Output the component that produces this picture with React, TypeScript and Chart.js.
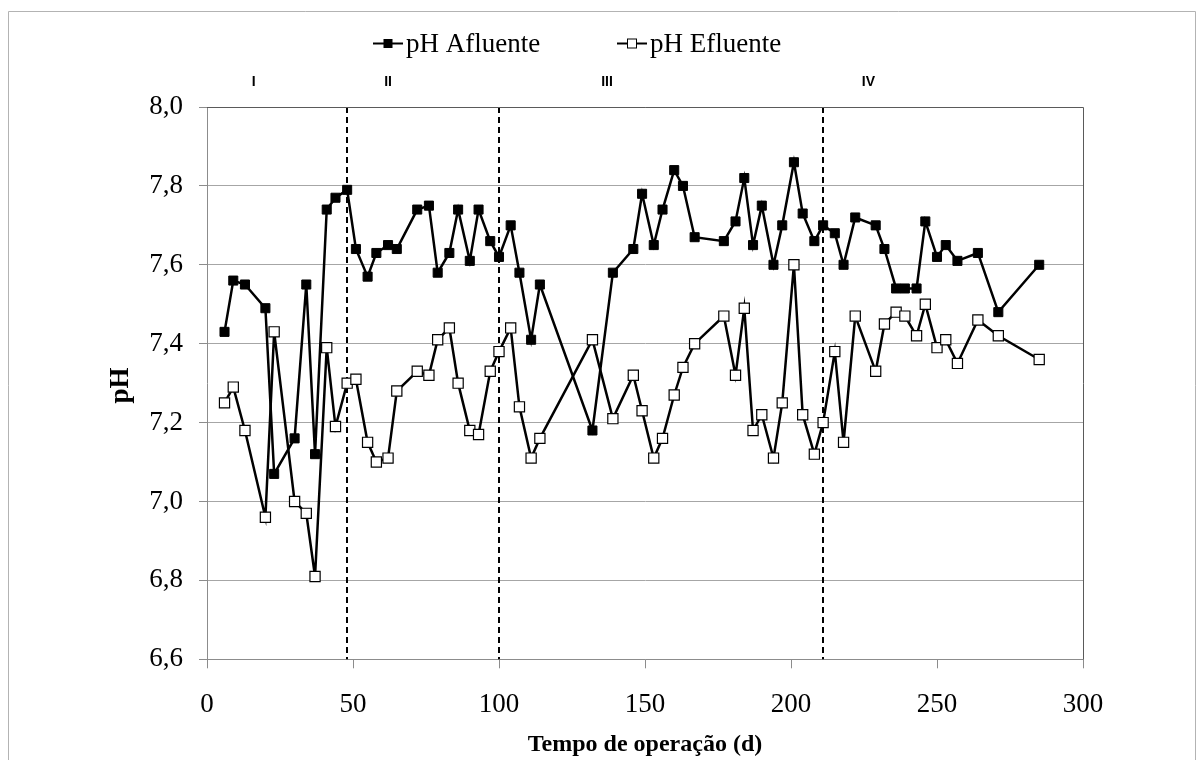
import { useEffect, useRef } from "react";
import { Chart, registerables } from "chart.js";

Chart.register(...registerables);

// Operation day of each sampling
const days = [
  6, 9, 13, 20, 23, 30, 34, 37, 41, 44, 48, 51, 55, 58, 62, 65, 72, 76, 79, 83,
  86, 90, 93, 97, 100, 104, 107, 111, 114, 132, 139, 146, 149, 153, 156, 160,
  163, 167, 177, 181, 184, 187, 190, 194, 197, 201, 204, 208, 211, 215, 218,
  222, 229, 232, 236, 239, 243, 246, 250, 253, 257, 264, 271, 285,
];

// Influent pH
const afluente = [
  7.43, 7.56, 7.55, 7.49, 7.07, 7.16, 7.55, 7.12, 7.74, 7.77, 7.79, 7.64, 7.57,
  7.63, 7.65, 7.64, 7.74, 7.75, 7.58, 7.63, 7.74, 7.61, 7.74, 7.66, 7.62, 7.7,
  7.58, 7.41, 7.55, 7.18, 7.58, 7.64, 7.78, 7.65, 7.74, 7.84, 7.8, 7.67, 7.66,
  7.71, 7.82, 7.65, 7.75, 7.6, 7.7, 7.86, 7.73, 7.66, 7.7, 7.68, 7.6, 7.72,
  7.7, 7.64, 7.54, 7.54, 7.54, 7.71, 7.62, 7.65, 7.61, 7.63, 7.48, 7.6,
];

// Effluent pH
const efluente = [
  7.25, 7.29, 7.18, 6.96, 7.43, 7.0, 6.97, 6.81, 7.39, 7.19, 7.3, 7.31, 7.15,
  7.1, 7.11, 7.28, 7.33, 7.32, 7.41, 7.44, 7.3, 7.18, 7.17, 7.33, 7.38, 7.44,
  7.24, 7.11, 7.16, 7.41, 7.21, 7.32, 7.23, 7.11, 7.16, 7.27, 7.34, 7.4, 7.47,
  7.32, 7.49, 7.18, 7.22, 7.11, 7.25, 7.6, 7.22, 7.12, 7.2, 7.38, 7.15, 7.47,
  7.33, 7.45, 7.48, 7.47, 7.42, 7.5, 7.39, 7.41, 7.35, 7.46, 7.42, 7.36,
];

// Phase boundaries (days) and phase names
const phaseBounds = [48, 100, 211];
const phaseNames = ["I", "II", "III", "IV"];
const phaseNameDays = [16, 62, 137, 226.5];

const seriesNames = ["pH Afluente", "pH Efluente"];

const W = 1188;
const H = 752;
const SERIF = "'Liberation Serif', 'Times New Roman', serif";
const SANS = "'Liberation Sans', Arial, sans-serif";

const decorations = {
  id: "decorations",
  beforeDatasetsDraw(chart: any) {
    const { ctx, chartArea, scales } = chart;
    ctx.save();
    ctx.strokeStyle = "#000";
    ctx.lineWidth = 2;
    ctx.setLineDash([6, 4]);
    phaseBounds.forEach((d) => {
      const x = Math.round(scales.x.getPixelForValue(d));
      ctx.beginPath();
      ctx.moveTo(x, chartArea.top);
      ctx.lineTo(x, chartArea.bottom);
      ctx.stroke();
    });
    ctx.restore();
  },
  afterDraw(chart: any) {
    const { ctx, chartArea, scales } = chart;
    ctx.save();

    // outer frame (runs past the bottom of the canvas)
    ctx.strokeStyle = "#b3b3b3";
    ctx.lineWidth = 1;
    ctx.beginPath();
    ctx.moveTo(0.5, H);
    ctx.lineTo(0.5, 3.5);
    ctx.lineTo(W - 0.5, 3.5);
    ctx.lineTo(W - 0.5, H);
    ctx.stroke();

    // top and right edges of the plot
    ctx.strokeStyle = "#5a5a5a";
    ctx.beginPath();
    ctx.moveTo(chartArea.left, chartArea.top + 0.5);
    ctx.lineTo(chartArea.right + 0.5, chartArea.top + 0.5);
    ctx.lineTo(chartArea.right + 0.5, chartArea.bottom);
    ctx.stroke();

    // phase names
    ctx.fillStyle = "#000";
    ctx.font = `bold 14px ${SANS}`;
    ctx.textAlign = "center";
    ctx.textBaseline = "middle";
    phaseNames.forEach((n, i) => {
      ctx.fillText(n, scales.x.getPixelForValue(phaseNameDays[i]), 74.5);
    });

    // legend
    const legendItems = [
      { x: 365, filled: true, text: seriesNames[0] },
      { x: 609, filled: false, text: seriesNames[1] },
    ];
    const ly = 35.5;
    legendItems.forEach((it) => {
      ctx.strokeStyle = "#000";
      ctx.lineWidth = 2;
      ctx.beginPath();
      ctx.moveTo(it.x, ly);
      ctx.lineTo(it.x + 30, ly);
      ctx.stroke();
      const s = it.filled ? 8 : 9;
      ctx.lineWidth = 1;
      ctx.fillStyle = it.filled ? "#000" : "#fff";
      ctx.fillRect(it.x + 15 - s / 2, ly - s / 2, s, s);
      ctx.strokeRect(it.x + 15 - s / 2, ly - s / 2, s, s);
      ctx.fillStyle = "#000";
      ctx.font = `27px ${SERIF}`;
      ctx.textAlign = "left";
      ctx.textBaseline = "middle";
      ctx.fillText(it.text, it.x + 33, ly + 1);
    });

    // axis titles
    ctx.fillStyle = "#000";
    ctx.font = `bold 24px ${SERIF}`;
    ctx.textAlign = "center";
    ctx.textBaseline = "middle";
    ctx.fillText(
      "Tempo de operação (d)",
      (chartArea.left + chartArea.right) / 2,
      737
    );
    ctx.translate(113.5, 377.5);
    ctx.rotate(-Math.PI / 2);
    ctx.font = `bold 27px ${SERIF}`;
    ctx.fillText("pH", 0, 0);
    ctx.restore();
  },
};

export default function App() {
  const ref = useRef<HTMLCanvasElement | null>(null);

  useEffect(() => {
    if (!ref.current) return;
    const toPoints = (vals: number[]) => days.map((d, i) => ({ x: d, y: vals[i] }));
    const chart = new Chart(ref.current, {
      type: "line",
      data: {
        datasets: [
          {
            label: seriesNames[0],
            data: toPoints(afluente),
            borderColor: "#000",
            borderWidth: 2.5,
            pointStyle: "rect",
            pointRadius: 6.4,
            pointBackgroundColor: "#000",
            pointBorderColor: "#000",
            pointBorderWidth: 1,
            tension: 0,
          },
          {
            label: seriesNames[1],
            data: toPoints(efluente),
            borderColor: "#000",
            borderWidth: 2.5,
            pointStyle: "rect",
            pointRadius: 7.2,
            pointBackgroundColor: "#fff",
            pointBorderColor: "#000",
            pointBorderWidth: 1.2,
            tension: 0,
          },
        ],
      },
      options: {
        animation: false,
        responsive: false,
        layout: { padding: { left: 0, right: 113, top: 99, bottom: 0 } },
        plugins: {
          legend: { display: false },
          tooltip: { enabled: false },
        },
        scales: {
          x: {
            type: "linear",
            min: 0,
            max: 300,
            ticks: {
              stepSize: 50,
              color: "#000",
              padding: 20,
              font: { family: SERIF, size: 27 },
              maxRotation: 0,
            },
            grid: {
              display: true,
              drawOnChartArea: false,
              drawTicks: true,
              tickLength: 9,
              tickColor: "#8c8c8c",
            },
            border: { display: true, color: "#8c8c8c", width: 1 },
            afterFit: (s: any) => {
              s.height = 100.7;
            },
          },
          y: {
            min: 6.6,
            max: 8.0,
            ticks: {
              stepSize: 0.2,
              color: "#000",
              padding: 16,
              font: { family: SERIF, size: 27 },
              callback: (v: any) => Number(v).toFixed(1).replace(".", ","),
            },
            grid: {
              color: "#a6a6a6",
              lineWidth: 1,
              drawTicks: true,
              tickLength: 8,
              tickColor: "#8c8c8c",
            },
            border: { display: true, color: "#8c8c8c", width: 1 },
            afterFit: (s: any) => {
              s.width = 199;
            },
          },
        },
      },
      plugins: [decorations],
    });
    return () => chart.destroy();
  }, []);

  return (
    <canvas
      ref={ref}
      width={W}
      height={H}
      style={{ display: "block", width: W, height: H }}
    />
  );
}
